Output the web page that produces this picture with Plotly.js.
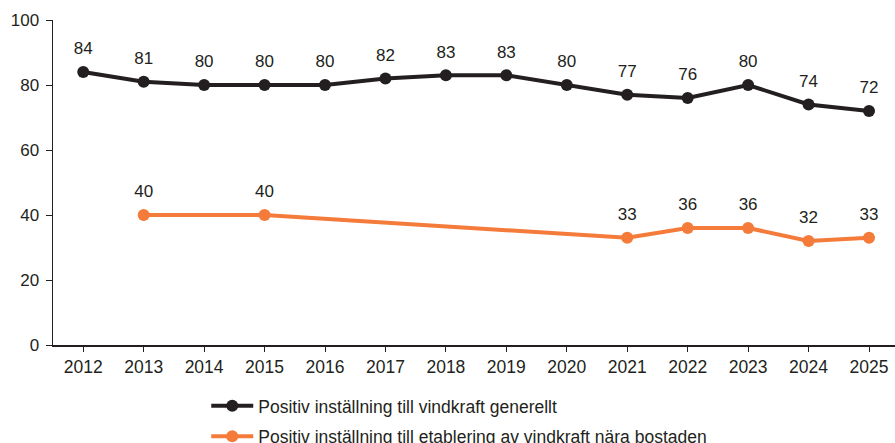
<!DOCTYPE html>
<html><head><meta charset="utf-8">
<script src="https://cdn.plot.ly/plotly-3.0.1.min.js"></script>
<style>html,body{margin:0;padding:0;background:#fff}#c{width:895px;height:443px}</style>
</head><body><div id="c"></div>
<script>
const years = ['2012','2013','2014','2015','2016','2017','2018','2019','2020','2021','2022','2023','2024','2025'];
const generellt = [84,81,80,80,80,82,83,83,80,77,76,80,74,72];
const naraYears = ['2013','2015','2021','2022','2023','2024','2025'];
const nara = [40,40,33,36,36,32,33];
const yTicks = [0,20,40,60,80,100];
const name1 = 'Positiv inställning till vindkraft generellt';
const name2 = 'Positiv inställning till etablering av vindkraft nära bostaden';
const txt = '#231f20';
const black = '#231f20', orange = '#f47b3a';
const labelTrace = (xs, ys) => ({x: xs, y: ys, mode: 'markers+text', text: ys.map(String),
  textposition: 'top center', textfont: {size: 17, color: txt},
  marker: {size: 20, color: 'rgba(0,0,0,0)'}, showlegend: false, hoverinfo: 'skip', cliponaxis: false});
const traces = [
  {x: years, y: generellt, name: name1, mode: 'lines+markers',
   line: {color: black, width: 4}, marker: {color: black, size: 12}, legend: 'legend', cliponaxis: false},
  {x: naraYears, y: nara, name: name2, mode: 'lines+markers',
   line: {color: orange, width: 4}, marker: {color: orange, size: 12}, legend: 'legend2', cliponaxis: false},
  labelTrace(years, generellt),
  labelTrace(naraYears, nara)
];
const layout = {
  width: 895, height: 443,
  margin: {l: 53, r: 0, t: 20, b: 98, autoexpand: false},
  font: {family: 'Liberation Sans, Arial, sans-serif', color: txt, size: 17},
  paper_bgcolor: '#fff', plot_bgcolor: '#fff',
  xaxis: {type: 'category', categoryarray: years, categoryorder: 'array', range: [-0.5, 13.43], showgrid: false, zeroline: false,
    showline: true, linecolor: txt, linewidth: 1.5, ticks: 'outside', ticklen: 5, tickcolor: txt,
    tickfont: {size: 17.5, color: txt}, tickangle: 0, automargin: false},
  yaxis: {range: [0, 100], tickvals: yTicks, showgrid: false, zeroline: false,
    showline: true, linecolor: txt, linewidth: 1.5, ticks: 'outside', ticklen: 6, tickcolor: txt,
    tickfont: {size: 17, color: txt}, ticklabelstandoff: 3, automargin: false},
  showlegend: true,
  legend: {x: 0.182, y: -0.132, xanchor: 'left', yanchor: 'top',
    itemwidth: 42, font: {size: 17.5, color: txt}, bgcolor: 'rgba(0,0,0,0)'},
  legend2: {x: 0.182, y: -0.226, xanchor: 'left', yanchor: 'top',
    itemwidth: 42, font: {size: 17.5, color: txt}, bgcolor: 'rgba(0,0,0,0)'}
};
Plotly.newPlot('c', traces, layout, {displayModeBar: false, staticPlot: true});
</script></body></html>
